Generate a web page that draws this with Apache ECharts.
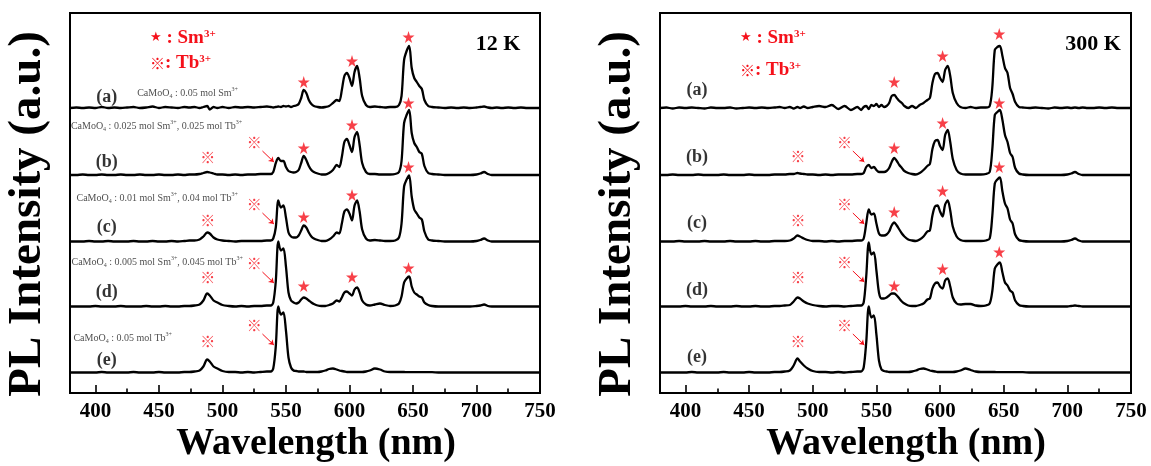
<!DOCTYPE html>
<html><head><meta charset="utf-8">
<script src="https://cdn.jsdelivr.net/npm/echarts@6/dist/echarts.min.js"></script>
<style>html,body{margin:0;padding:0;background:#fff}#c{width:1151px;height:466px}</style>
</head><body><div id="c"></div><script>
// ---------------- DATA ----------------
const wavelengths = [380,385,390,395,400,405,410,415,420,425,430,435,440,445,450,455,460,465,470,
  474,478,482,485,488,490,493,496,500,
  505,510,515,520,525,530,535,
  538,540,542,544,546,548,550,552,554,556,558,
  560,562,564,566,568,570,572,575,
  578,581,584,587,590,592,594,596,598,600,602,604,606,608,610,613,616,620,624,628,632,636,639,
  641,643,645,647,649,651,653,655,657,659,662,665,
  670,675,680,685,690,695,700,703,706,709,712,716,720,725,730,735,740,745,750];

const majorTicks = [400,450,500,550,600,650,700,750];
const minorTicks = [425,475,525,575,625,675,725];
const sampleLetters = ['(a)','(b)','(c)','(d)','(e)'];
const offsets = [285, 218, 151.5, 86.5, 20.5];   // vertical stacking offsets (a..e)

// 12 K intensities (a..e)
const k12_a = [0,0.5,0,0.5,0,1,0,0.5,0,0.5,1,0,0.5,1.5,0,1,0.5,0,1,
  0.5,1,0,1,2,-1.5,1,0,1,
  0,1,0.5,1,0.5,1,1.5,
  1,0.5,1,1.5,1,2,1.5,2,1,2,2.5,
  4,10,18,15,8,4,2,1,
  0.5,1,2,5,8,7,18,32,35,30,22,36,42,30,12,3,1,1.5,1,0.5,1,1,3,
  12,48,57,62,40,30,26,22,19,8,2,1,
  0.5,0,0.5,0,0.5,0,0.5,1,1.5,0.5,0,0.5,0,0.5,0,0.5,0,0,0];
const k12_b = [0,0,0.5,0,0,0.5,0,0,0.5,0,0,0.5,0,0,0.5,0,0,0.5,0,
  0.5,0.5,1,2,3,2.5,1.5,0.5,0.5,
  0,0.5,0,0.5,0.5,1,1,
  1,3,12,17,14,14,8,4,3,2.5,3,
  5,12,19,15,9,5,3,1.5,
  0.5,0.5,2,5,10,8,18,33,36,30,23,38,43,30,12,3,1,1,0.5,0.5,0.5,1,3,
  14,52,60,65,42,32,28,23,21,9,2,1,
  0.5,0,0,0,0,0,0.5,1.5,3,1,0,0,0,0,0,0,0,0,0];
const k12_c = [0,0,0,0.5,0,0,0.5,0,0,0,0.5,0,0,0.5,0,0,0.5,0,0.5,
  1,1,2,5,9,8,4,2,1,
  0.5,0,0.5,0.5,0.5,0.5,1,
  1,3,14,41,34,36,24,9,5,4,4,
  6,11,16,14,9,5,3,1.5,
  0.5,0.5,2,5,9,8,18,30,32,28,21,36,41,30,12,3,1,1.5,1,0.5,0.5,1,4,
  18,55,62,66,45,32,28,24,22,10,2,1,
  0.5,0,0,0,0,0,0.5,1.5,3,1,0,0,0,0,0,0,0,0,0];
const k12_d = [0,0,0,0,0.5,0,0,0,0.5,0,0,0,0.5,0,0,0.5,0,0,0.5,
  0.5,1,2,6,13,11,6,4,1.5,
  0.5,0,0.5,0,0.5,0.5,1,
  1,4,25,65,56,58,40,14,6,4,3,
  4,7,9,8,6,4,2.5,1,
  0.5,0.5,1.5,3,6,5,9,14,15,13,11,17,19,14,6,2,1,2,3,1.5,0.5,1,3,
  10,24,28,30,20,14,12,10,9,4,1.5,0.5,
  0,0,0,0,0,0,0.5,1,2,0.5,0,0,0,0,0,0,0,0,0];
const k12_e = [0,0,0,0,0,0.5,0,0,0,0,0.5,0,0,0,0.5,0,0,0,0.5,
  0.5,1,2,6,13,11,6,4,1.5,
  0.5,0.5,0,0.5,0,0.5,1,
  1,4,26,66,58,60,42,15,5,2,1.5,
  1,1,1,0.5,0.5,0.5,0.5,0.5,
  1,2,3.5,4,3,2,1.5,1,0.5,0.5,0.5,0.5,0.5,0.5,0.5,1,2,4,3,1,0.5,0.5,0.5,
  0.5,0.5,0.3,0.3,0.3,0.3,0.3,0.3,0.3,0.3,0.3,0.3,
  0,0,0,0,0,0,0,0,0,0,0,0,0,0,0,0,0,0,0];

// 300 K intensities (a..e)
const k300_a = [0,0.5,-0.5,0.5,0,0.5,0,-0.5,0.5,0,0,0.5,-0.5,0,0.5,0,0.5,0,0.5,
  1,0,1,-0.5,1,0,1.5,0,1,
  2,1,3,-1,2,-2,1,
  -2,1,2,-1,3,2,4,1,3,1,2,
  5,12,13,10,7,5,2,0,
  2,0,3,5,8,10,25,34,35,30,26,38,42,32,15,5,1,0,1,0,0.5,0.5,2,
  20,58,61,62,52,40,35,20,14,6,1,0.5,
  0,0.5,0,-0.5,0.5,0,0.5,0,0.5,0,0.5,0,0,0.5,0,0.5,0,0,0];
const k300_b = [0,0,0.5,0,0,0,0.5,0,0,0,0.5,0,0,0,0.5,0,0,0,0.5,
  0.5,0.5,1,1,2,1.5,1,0.5,0.5,
  0,0.5,0,0.5,0.5,0.5,1,
  1,2,8,10,7,8,5,3,3,3,4,
  7,13,17,14,10,7,4,2,
  1,0.5,2,5,9,11,26,34,35,29,25,40,45,33,16,5,1.5,0.5,0.5,0.5,0.5,1,3,
  25,60,63,65,55,40,33,22,18,7,1.5,0.5,
  0,0,0,0,0,0,0.5,1.5,3,1,0,0,0,0,0,0,0,0,0];
const k300_c = [0,0,0,0.5,0,0,0,0.5,0,0,0,0.5,0,0,0,0.5,0,0,0.5,
  0.5,0.5,1,3,6,5,3,1.5,0.5,
  0.5,0,0.5,0,0.5,0.5,1,
  1,3,18,32,27,28,18,8,6,6,7,
  10,16,19,16,12,8,5,2,
  1,0.5,2,5,10,11,26,35,36,30,25,37,41,31,15,5,1.5,0.5,0.5,0.5,0.5,1,3,
  25,58,62,64,50,38,33,22,18,7,1.5,0.5,
  0,0,0,0,0,0,0.5,1.5,3,1,0,0,0,0,0,0,0,0,0];
const k300_d = [0,0,0,0,0.5,0,0,0,0.5,0,0,0,0.5,0,0,0.5,0,0,0.5,
  0.5,1,1.5,5,9,8,5,3,1.5,
  0.5,0,0.5,0.5,0,0.5,1,
  1,4,30,64,52,54,36,14,8,8,9,
  11,13,13,11,8,5,3,1,
  0.5,0.5,1.5,3,7,8,18,23,24,20,18,26,28,20,9,3,2,2.5,2.5,1,0.5,1,3,
  15,38,42,44,34,24,21,16,14,6,1.5,0.5,
  0,0,0,0,0,0,0,0.5,1,0.5,0,0,0,0,0,0,0,0,0];
const k300_e = [0,0,0,0,0,0.5,0,0,0,0,0.5,0,0,0,0.5,0,0,0,0.5,
  0.5,1,2,7,14,11,7,4,1.5,
  0.5,0.5,0,0.5,0,0.5,1,
  1,5,30,66,55,57,38,12,3,1.5,1,
  0.5,0.5,0.5,0.5,0.5,0.5,0.5,0.5,
  1,2,3.5,4,3,2,1.5,1,0.5,0.5,0.5,0.5,0.5,0.5,0.5,1,2,4,2.5,1,0.5,0.5,0.5,
  0.5,0.5,0.3,0.3,0.3,0.3,0.3,0.3,0.3,0.3,0.3,0.3,
  0,0,0,0,0,0,0,0,0,0,0,0,0,0,0,0,0,0,0];

// annotation positions (wavelength, axis value)
const smLambda = [564, 602, 646.5];
const smY12K  = [[311,332,356],[245,268,290],[176,198,226],[107,116,125]];
const smY300K = [[311,337,359],[245,270,290],[181,202,226],[107,124,141]];
const tbLambda = [488.5, 525];
const tbY12K  = [[236,251],[173,189],[116,130],[52,68]];
const tbY300K = [[237,251],[173,189],[116,131],[52,68]];
const letterLambda = 409;
const letterY12K  = [296,231,166,101,33];
const letterY300K = [303,236,170,103,36];
const compLambda12K = [432.5, 380.3, 384.7, 380.8, 382.3];
const compY12K = [300, 267, 195, 131, 55];
const comp12K = [
  '{t|CaMoO}{s|4}{t| : 0.05 mol Sm}{p|3+}',
  '{t|CaMoO}{s|4}{t| : 0.025 mol Sm}{p|3+}{t|, 0.025 mol Tb}{p|3+}',
  '{t|CaMoO}{s|4}{t| : 0.01 mol Sm}{p|3+}{t|, 0.04 mol Tb}{p|3+}',
  '{t|CaMoO}{s|4}{t| : 0.005 mol Sm}{p|3+}{t|, 0.045 mol Tb}{p|3+}',
  '{t|CaMoO}{s|4}{t| : 0.05 mol Tb}{p|3+}'
];
const tempLabels = ['12 K', '300 K'];
const xTitle = 'Wavelength (nm)';
const yTitle = 'PL Intensity (a.u.)';

// ---------------- CHART ----------------
const SERIF = '"Liberation Serif", "Times New Roman", serif';
const RED = '#f5101a';
const STAR = 'path://M50,0 L61,35 L98,35 L68,57 L79,91 L50,70 L21,91 L32,57 L2,35 L39,35 Z';
const gridDefs = [{left:70, top:13, width:470, height:380}, {left:660, top:13, width:471, height:380}];
const panels = [
  {spectra:[k12_a,k12_b,k12_c,k12_d,k12_e], smY:smY12K, tbY:tbY12K, letterY:letterY12K, comps:true},
  {spectra:[k300_a,k300_b,k300_c,k300_d,k300_e], smY:smY300K, tbY:tbY300K, letterY:letterY300K, comps:false}
];

const grid = gridDefs.map(g => Object.assign({show:true, borderColor:'#000', borderWidth:2, backgroundColor:'transparent'}, g));
const xAxis = [], yAxis = [], series = [];
gridDefs.forEach((g, gi) => {
  xAxis.push({type:'value', gridIndex:gi, min:380, max:750, position:'bottom',
    axisLine:{show:false}, splitLine:{show:false},
    axisTick:{show:true, inside:true, length:8, customValues:majorTicks, lineStyle:{color:'#000', width:1.6}},
    axisLabel:{show:true, customValues:majorTicks, margin:8, color:'#000', fontFamily:SERIF, fontWeight:'bold', fontSize:21}
  });
  xAxis.push({type:'value', gridIndex:gi, min:380, max:750, position:'bottom',
    axisLine:{show:false}, splitLine:{show:false},
    axisTick:{show:true, inside:true, length:4.5, customValues:minorTicks, lineStyle:{color:'#000', width:1.6}},
    axisLabel:{show:false}
  });
  yAxis.push({type:'value', gridIndex:gi, min:0, max:380, show:false});
});

panels.forEach((p, gi) => {
  const xi = gi*2, yi = gi;
  p.spectra.forEach((arr, k) => {
    series.push({type:'line', xAxisIndex:xi, yAxisIndex:yi, showSymbol:false, smooth:0.3, silent:true,
      lineStyle:{color:'#000', width:2.3}, data: wavelengths.map((w, i) => [w, offsets[k] + arr[i]]), z:2});
  });
  // Sm3+ stars
  const starData = [];
  p.smY.forEach(row => row.forEach((y, j) => starData.push([smLambda[j], y])));
  series.push({type:'scatter', xAxisIndex:xi, yAxisIndex:yi, symbol:STAR, symbolSize:12, silent:true,
    itemStyle:{color:RED}, data:starData, z:5});
  // Tb3+ marks
  const tbData = [];
  p.tbY.forEach(row => row.forEach((y, j) => tbData.push([tbLambda[j], y])));
  series.push({type:'scatter', xAxisIndex:xi, yAxisIndex:yi, symbolSize:1, silent:true,
    itemStyle:{color:'rgba(0,0,0,0)'}, data:tbData, z:5,
    label:{show:true, position:'inside', formatter:'※', color:RED, fontSize:15, fontFamily:'"Noto Sans CJK SC"'}});
  // arrows
  series.push({type:'lines', coordinateSystem:'cartesian2d', xAxisIndex:xi, yAxisIndex:yi, silent:true,
    symbol:['none','arrow'], symbolSize:5, lineStyle:{color:RED, width:1, opacity:1, curveness:0},
    data: p.tbY.map(row => ({coords:[[531.5, row[1]-9], [540.5, row[1]-20]]})), z:5});
  // sample letters
  series.push({type:'scatter', xAxisIndex:xi, yAxisIndex:yi, symbolSize:1, silent:true,
    itemStyle:{color:'rgba(0,0,0,0)'}, z:6,
    data: sampleLetters.map((s, k) => ({value:[letterLambda, p.letterY[k]], label:{formatter:s}})),
    label:{show:true, position:'inside', color:'#000', fontFamily:SERIF, fontWeight:'bold', fontSize:18}});
  if (p.comps) {
    series.push({type:'scatter', xAxisIndex:xi, yAxisIndex:yi, symbolSize:1, silent:true,
      itemStyle:{color:'rgba(0,0,0,0)'}, z:6,
      data: comp12K.map((s, k) => ({value:[compLambda12K[k], compY12K[k]], label:{formatter:s}})),
      label:{show:true, position:'right', distance:0,
        rich:{
          t:{fontFamily:SERIF, fontSize:10, color:'#222', lineHeight:13},
          s:{fontFamily:SERIF, fontSize:6, color:'#222', verticalAlign:'bottom'},
          p:{fontFamily:SERIF, fontSize:6, color:'#222', verticalAlign:'top'}
        }}});
  }
});

function legendText(x, y, mark, markFont, ion, size) {
  return {type:'text', x:x, y:y, z:10, silent:true, style:{
    text:'{m|' + mark + '}{b|' + ion + '}{p|3+}', verticalAlign:'middle', align:'left',
    rich:{
      m:{fill:RED, font:markFont},
      b:{fill:RED, fontFamily:SERIF, fontWeight:'bold', fontSize:size},
      p:{fill:RED, fontFamily:SERIF, fontWeight:'bold', fontSize:11, verticalAlign:'top'}
    }}};
}
const graphic = [
  legendText(150, 38, '★', '13px "DejaVu Sans"', ' : Sm', 19),
  legendText(150, 63, '※', '15px "Noto Sans CJK SC"', ': Tb', 19),
  legendText(740, 38, '★', '13px "DejaVu Sans"', ' : Sm', 19),
  legendText(740, 70, '※', '15px "Noto Sans CJK SC"', ': Tb', 19),
  {type:'text', x:498, y:44, silent:true, style:{text:tempLabels[0], font:'bold 22px ' + SERIF, fill:'#000', align:'center', verticalAlign:'middle'}},
  {type:'text', x:1093, y:44, silent:true, style:{text:tempLabels[1], font:'bold 22px ' + SERIF, fill:'#000', align:'center', verticalAlign:'middle'}},
  {type:'text', x:316, y:444, silent:true, style:{text:xTitle, font:'bold 38px ' + SERIF, fill:'#000', align:'center', verticalAlign:'middle'}},
  {type:'text', x:906, y:444, silent:true, style:{text:xTitle, font:'bold 38px ' + SERIF, fill:'#000', align:'center', verticalAlign:'middle'}},
  {type:'text', x:28, y:214, rotation:Math.PI/2, silent:true, style:{text:yTitle, font:'bold 47px ' + SERIF, fill:'#000', align:'center', verticalAlign:'middle'}},
  {type:'text', x:618, y:214, rotation:Math.PI/2, silent:true, style:{text:yTitle, font:'bold 47px ' + SERIF, fill:'#000', align:'center', verticalAlign:'middle'}}
];

const chart = echarts.init(document.getElementById('c'), null, {renderer:'canvas'});
chart.setOption({animation:false, backgroundColor:'#fff', grid, xAxis, yAxis, series, graphic});
</script></body></html>
